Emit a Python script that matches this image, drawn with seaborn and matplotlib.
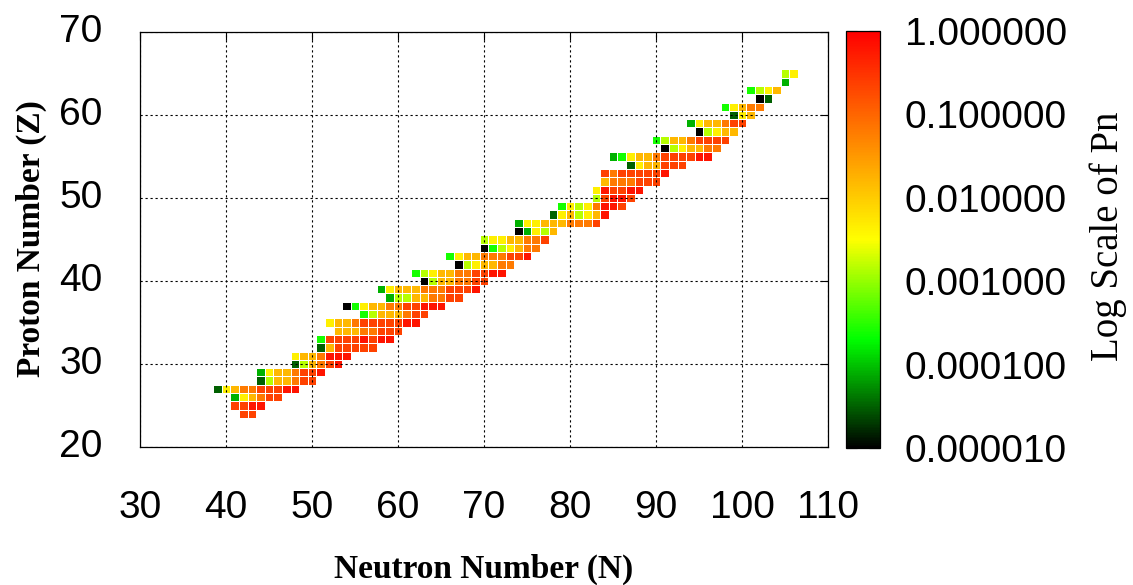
import numpy as np
import pandas as pd
import matplotlib
matplotlib.use("Agg")
import matplotlib.pyplot as plt
from matplotlib.colors import LinearSegmentedColormap
import seaborn as sns

# one row of the chart per proton number: first neutron number and a shade code per cell
z_rows = [24, 25, 26, 27, 28, 29, 30, 31, 32, 33, 34, 35, 36, 37, 38, 39, 40,
          41, 42, 43, 44, 45, 46, 47, 48, 49, 50, 51, 52, 53, 54, 55, 56, 57,
          58, 59, 60, 61, 62, 63, 64, 65]
n_first = [42, 41, 41, 39, 44, 44, 48, 48, 51, 51, 53, 52, 56, 54, 59, 58, 63,
           62, 67, 66, 70, 70, 74, 74, 78, 79, 83, 83, 84, 84, 87, 85, 91, 90,
           95, 94, 99, 98, 102, 101, 105, 105]
row_codes = ["rr", "rrRR", "gyaorr", "dyaoorrrRR", "dlaaorr", "gyaaorrR",
             "dlaorR", "yaaoRRR", "darrrrr", "brrrrRrRR", "aaaoorrr",
             "yaaorrrrrRR", "blaaaorr", "kbyaaoorrRRR", "gllaaoorr",
             "gyaaaooorrrR", "klaaoorr", "blyaaoorrRR", "klyaaoo",
             "byaaooorrR", "kblyaoo", "lyyaaoor", "kgyla", "gyyaaaooor",
             "dyalyaR", "bylyoRRr", "lrRRr", "yRrrRR", "aooorrr", "rorrrrrR",
             "dyaarrr", "gbyaaorrrrRR", "klyaaoo", "blaaorrrr", "klyaa",
             "gyaaorr", "dya", "byaoo", "kd", "blya", "g", "ly"]
# log10(Pn)
shade_logpn = {"k": -5.0, "d": -4.5, "g": -4.1, "b": -3.6, "l": -2.85,
               "y": -2.35, "a": -1.8, "o": -1.2, "r": -0.65, "R": -0.2}

n_ticks = [30, 40, 50, 60, 70, 80, 90, 100, 110]
z_ticks = [20, 30, 40, 50, 60, 70]
cbar_logs = [-5, -4, -3, -2, -1, 0]

cells = []
for z, n0, codes in zip(z_rows, n_first, row_codes):
    for i, c in enumerate(codes):
        cells.append((n0 + i, z, shade_logpn[c]))
df = pd.DataFrame(cells, columns=["N", "Z", "logpn"])
grid = df.pivot(index="Z", columns="N", values="logpn")
n_all = list(range(n_ticks[0], n_ticks[-1] + 1))
z_all = list(range(z_ticks[-1], z_ticks[0] - 1, -1))
grid = grid.reindex(index=z_all, columns=n_all)

cmap = LinearSegmentedColormap.from_list(
    "pn", [(0.0, "black"), (0.26, "#00ff00"), (0.5, "#ffff00"), (1.0, "#ff0000")])

sns.set_style("white")
plt.rcParams["font.family"] = ["Liberation Sans", "DejaVu Sans"]
plt.rcParams["text.color"] = "black"
plt.rcParams["axes.labelcolor"] = "black"

fig = plt.figure(figsize=(11.33, 5.85), dpi=100)
ax = fig.add_axes([140 / 1133, 1 - 447 / 585, 688 / 1133, 415 / 585])
cax = fig.add_axes([846 / 1133, 1 - 448 / 585, 34 / 1133, 417 / 585])

sns.heatmap(grid, ax=ax, cbar_ax=cax, cmap=cmap, vmin=-5, vmax=0,
            linewidths=0.6, linecolor="white")

# axes ticks at cell centres
ax.set_xticks([n - n_all[0] + 0.5 for n in n_ticks])
ax.set_xticklabels([str(n) for n in n_ticks], rotation=0)
ax.set_yticks([z_all.index(z) + 0.5 for z in z_ticks])
ax.set_yticklabels([str(z) for z in z_ticks], rotation=0)
ax.set_xlim(0.5, len(n_all) - 0.5)
ax.set_ylim(len(z_all) - 0.5, 0.5)
ax.tick_params(axis="both", which="major", direction="in", length=6, width=0.8,
               top=True, right=True, labelsize=28, colors="black")
ax.tick_params(axis="x", pad=31)
ax.tick_params(axis="y", pad=27)
for s in ax.spines.values():
    s.set_visible(True)
    s.set_color("black")
    s.set_linewidth(0.9)
ax.set_axisbelow(False)
ax.grid(True, color="black", linestyle=(0, (2, 2.5)), linewidth=0.8)

lab_font = dict(family=["Liberation Serif", "DejaVu Serif"], size=24,
                weight="bold", color="black")
ax.set_xlabel("Neutron Number (N)", fontdict=lab_font, va="center")
ax.xaxis.set_label_coords(0.5, (447 - 569) / 415)
ax.set_ylabel("Proton Number (Z)", fontdict=lab_font, va="center")
ax.yaxis.set_label_coords((31 - 140) / 688, (447 - 239) / 415)

# colour bar
cbar = ax.collections[0].colorbar
cbar.outline.set_linewidth(0.9)
cbar.outline.set_edgecolor("black")
cbar.set_ticks(cbar_logs)
cbar.set_ticklabels([f"{10.0 ** v:.6f}" for v in cbar_logs])
minor = [d + np.log10(k) for d in range(-5, 0) for k in (2, 5, 8)]
cax.yaxis.set_ticks(minor, minor=True)
cax.tick_params(which="major", direction="in", length=8, width=0.8,
                left=True, right=True, labelsize=28, pad=18, colors="black")
cax.tick_params(which="minor", direction="in", length=4, width=0.8,
                left=True, right=True)
cax.set_ylabel("Log Scale of Pn", family=["Liberation Serif", "DejaVu Serif"],
               size=28, va="center", rotation=90, color="black")
cax.yaxis.set_label_coords((1108 - 846) / 34, (448 - 236) / 417)

fig.savefig("out.png", dpi=100)
